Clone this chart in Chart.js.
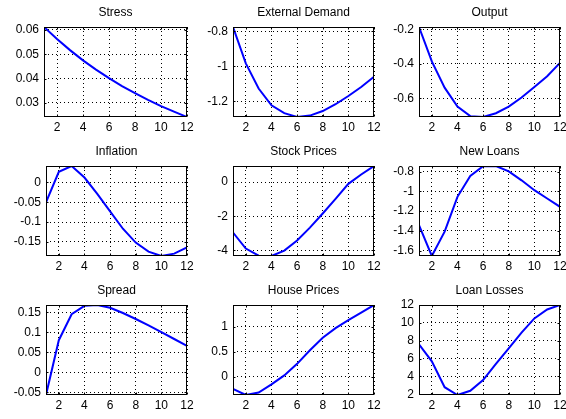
<!DOCTYPE html>
<html>
<head>
<meta charset="utf-8">
<script src="https://cdn.jsdelivr.net/npm/chart.js@4/dist/chart.umd.min.js"></script>
<style>
  html, body { margin: 0; padding: 0; background: #fff; }
  #wrap { position: relative; width: 566px; height: 419px; overflow: hidden; background: #fff; }
  #wrap canvas { position: absolute; }
</style>
</head>
<body>
<div id="wrap"></div>
<script>
// horizon (quarters) and x tick marks shared by all panels
const periods = [1, 2, 3, 4, 5, 6, 7, 8, 9, 10, 11, 12];
const xTicks = [2, 4, 6, 8, 10, 12];

// responses
const stress = [0.0612, 0.0563, 0.0517, 0.0475, 0.0437, 0.0402, 0.0369, 0.0340, 0.0312, 0.0287, 0.0264, 0.0242];
const externalDemand = [-0.775, -0.983, -1.127, -1.223, -1.268, -1.290, -1.282, -1.256, -1.217, -1.170, -1.118, -1.060];
const output = [-0.187, -0.386, -0.538, -0.648, -0.703, -0.708, -0.686, -0.648, -0.595, -0.534, -0.472, -0.395];
const inflation = [-0.050, 0.027, 0.0417, 0.0125, -0.029, -0.073, -0.117, -0.152, -0.175, -0.186, -0.180, -0.164];
const stockPrices = [-2.96, -3.90, -4.32, -4.34, -4.02, -3.43, -2.67, -1.84, -0.98, -0.10, 0.45, 0.95];
const newLoans = [-1.341, -1.654, -1.408, -1.055, -0.844, -0.745, -0.743, -0.797, -0.888, -0.988, -1.072, -1.156];
const spread = [-0.057, 0.080, 0.145, 0.166, 0.168, 0.161, 0.148, 0.133, 0.117, 0.100, 0.083, 0.066];
const housePrices = [-0.24, -0.36, -0.31, -0.15, 0.03, 0.26, 0.53, 0.78, 0.97, 1.13, 1.28, 1.43];
const loanLosses = [7.6, 5.7, 2.8, 1.93, 2.4, 3.6, 5.4, 7.15, 8.9, 10.5, 11.5, 12.0];

// y tick values per panel
const stressTicks = [0.03, 0.04, 0.05, 0.06];
const externalDemandTicks = [-1.2, -1, -0.8];
const outputTicks = [-0.6, -0.4, -0.2];
const inflationTicks = [-0.15, -0.1, -0.05, 0];
const stockPricesTicks = [-4, -2, 0];
const newLoansTicks = [-1.6, -1.4, -1.2, -1, -0.8];
const spreadTicks = [-0.05, 0, 0.05, 0.1, 0.15];
const housePricesTicks = [0, 0.5, 1];
const loanLossesTicks = [2, 4, 6, 8, 10, 12];

// plot box of each panel on the page: [left, top, right, bottom]
const panels = [
  { title: 'Stress', values: stress, ticks: stressTicks, box: [44, 27, 187, 117] },
  { title: 'External Demand', values: externalDemand, ticks: externalDemandTicks, box: [233, 27, 374, 117] },
  { title: 'Output', values: output, ticks: outputTicks, box: [419, 27, 560, 117] },
  { title: 'Inflation', values: inflation, ticks: inflationTicks, box: [46, 166, 187, 256] },
  { title: 'Stock Prices', values: stockPrices, ticks: stockPricesTicks, box: [233, 166, 374, 256] },
  { title: 'New Loans', values: newLoans, ticks: newLoansTicks, box: [419, 166, 560, 256] },
  { title: 'Spread', values: spread, ticks: spreadTicks, box: [46, 305, 187, 395] },
  { title: 'House Prices', values: housePrices, ticks: housePricesTicks, box: [233, 305, 374, 395] },
  { title: 'Loan Losses', values: loanLosses, ticks: loanLossesTicks, box: [419, 305, 560, 395] }
];

const Y_W = 50, TITLE_H = 27, X_H = 22, RIGHT = 14;

Chart.defaults.font.family = '"Liberation Sans", Arial, sans-serif';
Chart.defaults.font.size = 12;
Chart.defaults.color = '#000';

// matlab style box with inward tick marks
const boxPlugin = {
  id: 'box',
  afterDraw(chart) {
    const { ctx, chartArea: a, scales } = chart;
    const l = Math.round(a.left) + 0.5, t = Math.round(a.top) + 0.5;
    const r = Math.round(a.right) - 0.5, b = Math.round(a.bottom) - 0.5;
    ctx.save();
    ctx.strokeStyle = '#000';
    ctx.lineWidth = 1;
    ctx.strokeRect(l, t, r - l, b - t);
    ctx.beginPath();
    scales.x.ticks.forEach(tk => {
      const px = Math.round(scales.x.getPixelForValue(tk.value)) + 0.5;
      ctx.moveTo(px, b); ctx.lineTo(px, b - 2);
      ctx.moveTo(px, t); ctx.lineTo(px, t + 2);
    });
    scales.y.ticks.forEach(tk => {
      const py = Math.round(scales.y.getPixelForValue(tk.value)) + 0.5;
      ctx.moveTo(l, py); ctx.lineTo(l + 2, py);
      ctx.moveTo(r, py); ctx.lineTo(r - 2, py);
    });
    ctx.stroke();
    ctx.restore();
  }
};

const wrap = document.getElementById('wrap');

panels.forEach(p => {
  const [bl, bt, br, bb] = p.box;
  const canvas = document.createElement('canvas');
  const w = (br - bl) + Y_W + RIGHT;
  const h = (bb - bt) + TITLE_H + X_H;
  canvas.width = w;
  canvas.height = h;
  canvas.style.width = w + 'px';
  canvas.style.height = h + 'px';
  canvas.style.left = (bl - Y_W) + 'px';
  canvas.style.top = (bt - TITLE_H) + 'px';
  wrap.appendChild(canvas);

  new Chart(canvas, {
    type: 'line',
    data: {
      datasets: [{
        data: periods.map((x, i) => ({ x: x, y: p.values[i] })),
        borderColor: '#0000ff',
        borderWidth: 2,
        pointRadius: 0,
        tension: 0,
        fill: false
      }]
    },
    options: {
      responsive: false,
      animation: false,
      events: [],
      layout: { padding: { left: 0, right: RIGHT, top: 0, bottom: 0 } },
      plugins: {
        legend: { display: false },
        tooltip: { enabled: false },
        title: {
          display: true,
          fullSize: false, // centre the title over the plot box only
          text: p.title,
          color: '#000',
          font: { size: 12, weight: 'normal' },
          padding: { top: 5.5, bottom: 7.1 }
        }
      },
      scales: {
        x: {
          type: 'linear',
          min: 1,
          max: 12,
          afterBuildTicks: s => { s.ticks = xTicks.map(v => ({ value: v })); },
          afterFit: s => { s.height = X_H; },
          grid: { color: '#000', lineWidth: 1, drawTicks: false },
          border: { display: false, dash: [1, 3] },
          ticks: { padding: 3, maxRotation: 0, callback: v => String(v) }
        },
        y: {
          type: 'linear',
          min: Math.min(...p.values),
          max: Math.max(...p.values),
          afterBuildTicks: s => { s.ticks = p.ticks.map(v => ({ value: v })); },
          afterFit: s => { s.width = Y_W; },
          grid: { color: '#000', lineWidth: 1, drawTicks: false },
          border: { display: false, dash: [1, 3] },
          ticks: { padding: 5, callback: v => String(v) }
        }
      }
    },
    plugins: [boxPlugin]
  });
});
</script>
</body>
</html>
